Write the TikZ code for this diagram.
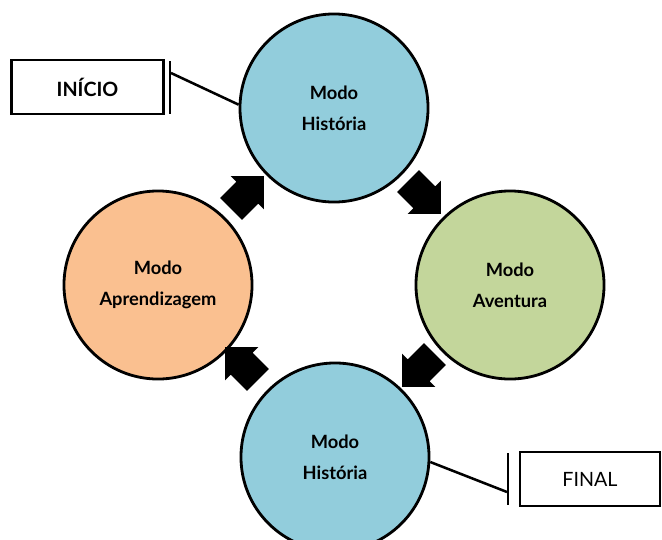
\documentclass[tikz,border=0pt]{standalone}
\usepackage{fontspec}
\setmainfont{Lato}
\usepackage{xcolor}
\usetikzlibrary{shapes.arrows,positioning}
\definecolor{azul}{HTML}{92CDDC}
\definecolor{verde}{HTML}{C3D69B}
\definecolor{laranja}{HTML}{FAC090}

\begin{document}
\begin{tikzpicture}[x=0.025cm,y=-0.025cm,
	modo/.style={draw,circle,line width=2pt,minimum size=4.7cm,align=center,font=\bfseries\fontsize{13}{22}\selectfont},
	caixa/.style={draw,rectangle,line width=2pt,minimum height=1.35cm,font=\fontsize{14}{16}\selectfont},
	barra/.style={fill=black,inner sep=0pt,minimum width=2pt,minimum height=1.32cm},
	seta/.style={single arrow,fill=black,inner sep=0.38cm,minimum height=1.1cm,single arrow head extend=0.2cm}]
	
	\useasboundingbox (0,0) rectangle (662,539);
	\clip (0,0) rectangle (662,539);
	
	% os quatro modos
	\node[modo,fill=azul] (h1) at (334,108) {Modo\\História};
	\node[modo,fill=verde] (av) at (510,285) {Modo\\Aventura};
	\node[modo,fill=azul] (h2) at (335,457) {Modo\\História};
	\node[modo,fill=laranja] (ap) at (158,285) {Modo\\Aprendizagem};
	
	% inicio e final
	\node[caixa,minimum width=3.78cm,font=\bfseries\fontsize{14}{16}\selectfont] (ini) at (87.5,87) {INÍCIO};
	\node[barra] (bi) at (170,87.5) {};
	\coordinate (ti) at (171,73);
	\node[caixa,minimum width=3.5cm] (fim) at (590,479) {FINAL};
	\node[barra] (bf) at (508,479) {};
	\coordinate (tf) at (507,492);
	
	\draw[line width=1.8pt] (h1.178) -- (ti);
	\draw[line width=1.8pt] (h2.-3) -- (tf);
	
	% setas entre os modos
	\node[seta,rotate=45] (s1) at (242,198) {};
	\node[seta,rotate=-45] (s2) at (419,192) {};
	\node[seta,rotate=-135] (s3) at (424,365) {};
	\node[seta,rotate=135] (s4) at (247,369) {};
	
\end{tikzpicture}
\end{document}
